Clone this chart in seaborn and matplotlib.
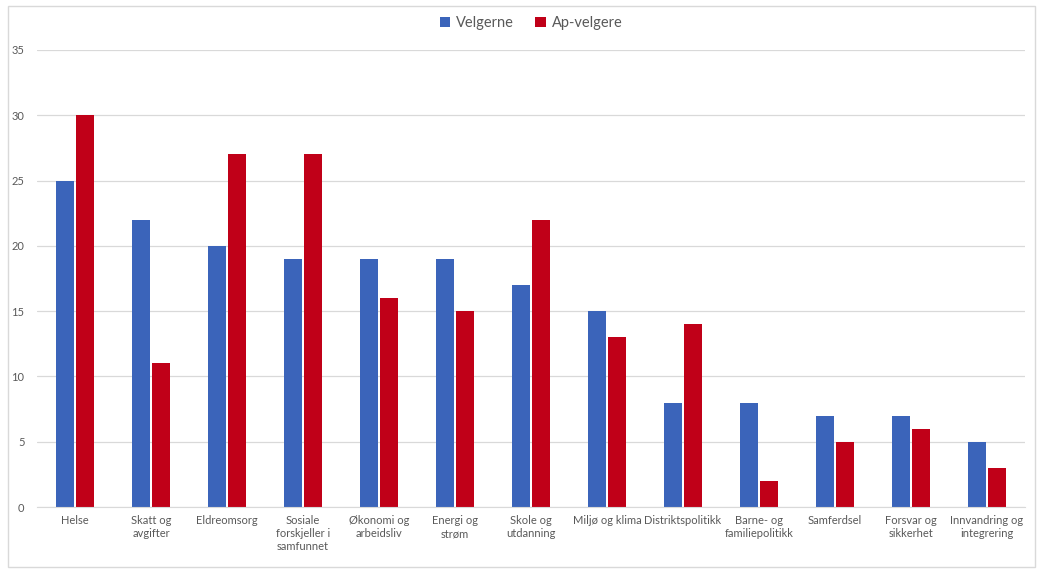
import pandas as pd
import seaborn as sns
import matplotlib.pyplot as plt
from matplotlib.patches import Rectangle

# Data
categories = ['Helse', 'Skatt og\navgifter', 'Eldreomsorg', 'Sosiale\nforskjeller i\nsamfunnet',
              'Økonomi og\narbeidsliv', 'Energi og\nstrøm', 'Skole og\nutdanning', 'Miljø og klima',
              'Distriktspolitikk', 'Barne- og\nfamiliepolitikk', 'Samferdsel', 'Forsvar og\nsikkerhet',
              'Innvandring og\nintegrering']
velgerne = [25, 22, 20, 19, 19, 19, 17, 15, 8, 8, 7, 7, 5]
ap_velgere = [30, 11, 27, 27, 16, 15, 22, 13, 14, 2, 5, 6, 3]
series = ['Velgerne', 'Ap-velgere']
colors = ['#3B64BA', '#C00018']

df = pd.DataFrame({
    'kategori': categories * 2,
    'verdi': velgerne + ap_velgere,
    'serie': [series[0]] * len(categories) + [series[1]] * len(categories),
})

sns.set_style('white')
plt.rcParams['font.family'] = ['Lato', 'DejaVu Sans']

fig = plt.figure(figsize=(10.47, 5.74), dpi=100)
ax = fig.add_axes([0.0353, 0.1167, 0.9437, 0.7963])

sns.barplot(data=df, x='kategori', y='verdi', hue='serie', palette=colors,
            width=0.52, gap=0.12, ax=ax, saturation=1, linewidth=0)

ax.set_ylim(0, 35)
ax.set_xlim(-0.5, len(categories) - 0.5)
ax.set_yticks(range(0, 36, 5))
ax.yaxis.grid(True, color='#D9D9D9', linewidth=0.9)
ax.set_axisbelow(True)
for s in ['top', 'right', 'left']:
    ax.spines[s].set_visible(False)
ax.spines['bottom'].set_color('#D9D9D9')
ax.set_xlabel('')
ax.set_ylabel('')
ax.tick_params(axis='both', length=0, labelsize=8, colors='#595959', pad=6)
ax.tick_params(axis='y', pad=9)

leg = ax.legend(loc='center', bbox_to_anchor=(0.5, 1.058), ncol=2, frameon=False,
                fontsize=10.5, handlelength=0.7, handleheight=0.7, columnspacing=1.5,
                handletextpad=0.4)
for t in leg.get_texts():
    t.set_color('#595959')

fig.add_artist(Rectangle((8 / 1047, 7 / 574), 1027 / 1047, 561 / 574, transform=fig.transFigure,
                         fill=False, edgecolor='#D9D9D9', linewidth=1))

fig.savefig('out.png', dpi=100, facecolor='white')
